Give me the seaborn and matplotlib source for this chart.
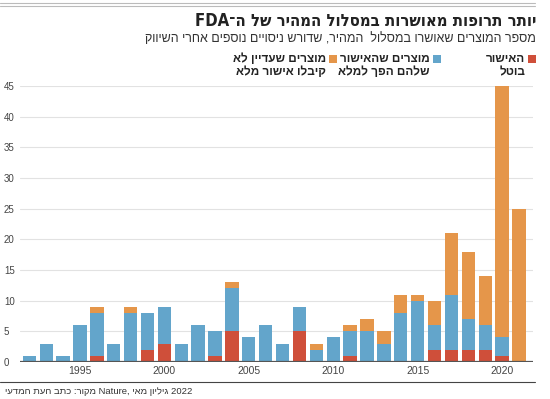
import re

import numpy as np
import pandas as pd
import seaborn as sns
import matplotlib.pyplot as plt
from matplotlib.patches import Rectangle
from matplotlib.lines import Line2D

# data
years = list(range(1992, 2022))
withdrawn = [0, 0, 0, 0, 1, 0, 0, 2, 3, 0, 0, 1, 5, 0, 0, 0, 5, 0, 0, 1, 0, 0, 0, 0, 2, 2, 2, 2, 1, 0]
converted = [1, 3, 1, 6, 7, 3, 8, 6, 6, 3, 6, 4, 7, 4, 6, 3, 4, 2, 4, 4, 5, 3, 8, 10, 4, 9, 5, 4, 3, 0]
pending = [0, 0, 0, 0, 1, 0, 1, 0, 0, 0, 0, 0, 1, 0, 0, 0, 0, 1, 0, 1, 2, 2, 3, 1, 4, 10, 11, 8, 41, 25]

title = "יותר תרופות מאושרות במסלול המהיר של ה־FDA"
subtitle = "מספר המוצרים שאושרו במסלול  המהיר, שדורש ניסויים נוספים אחרי השיווק"
legend_labels = ["האישור\nבוטל", "מוצרים שהאישור\nשלהם הפך למלא", "מוצרים שעדיין לא\nקיבלו אישור מלא"]

RED = "#cf4f3a"
BLUE = "#63a5cb"
ORANGE = "#e5964a"
colors = [RED, BLUE, ORANGE]

W, H = 550, 399


def rtl(s):
    # matplotlib has no bidi: flip each line, keep latin/digit runs readable
    out = []
    for line in s.split("\n"):
        r = line[::-1]
        out.append(re.sub(r"[A-Za-z0-9]+", lambda m: m.group(0)[::-1], r))
    return "\n".join(out)


def fx(px):
    return px / W


def fy(py):
    return 1 - py / H


sns.set_style("white")
plt.rcParams["font.family"] = ["Liberation Sans", "DejaVu Sans"]

df = pd.DataFrame({"year": years, "withdrawn": withdrawn,
                   "converted": converted, "pending": pending})
df["mid"] = df["withdrawn"] + df["converted"]
df["total"] = df["mid"] + df["pending"]

fig = plt.figure(figsize=(W / 100, H / 100), dpi=100)
ax = fig.add_axes([fx(20), fy(362), fx(533) - fx(20), fy(86) - fy(362)])

# stacked look: draw cumulative heights back to front
for col, c in [("total", ORANGE), ("mid", BLUE), ("withdrawn", RED)]:
    sns.barplot(data=df, x="year", y=col, color=c, saturation=1, width=0.79,
                edgecolor="none", ax=ax, zorder=2)

ax.set_xlim(-0.55, len(years) - 0.17)
ax.set_ylim(0, 45)
ax.set_yticks(range(0, 46, 5))
ax.set_yticklabels([str(v) for v in range(0, 46, 5)], ha="left")
ax.tick_params(axis="y", pad=11.5, length=0, labelsize=7, labelcolor="#444")
xt = [i for i, y in enumerate(years) if y % 5 == 0]
ax.set_xticks(xt)
ax.set_xticklabels([str(years[i]) for i in xt])
ax.tick_params(axis="x", pad=3, length=0, labelsize=7.5, labelcolor="#444")
ax.set_xlabel("")
ax.set_ylabel("")
ax.grid(axis="y", color="#e2e2e2", lw=0.8, zorder=0)
for s in ax.spines.values():
    s.set_visible(False)
ax.axhline(0, color="#555", lw=1.6, zorder=3)

# header rules
for y in (3, 5.5):
    fig.add_artist(Line2D([0, fx(535)], [fy(y), fy(y)], color="#bbb", lw=0.8))

fig.text(fx(536), fy(21), rtl(title), ha="right", va="center",
         fontsize=12, fontweight="bold", fontstretch="condensed",
         family=["DejaVu Sans"], color="#222")
fig.text(fx(536), fy(39), rtl(subtitle), ha="right", va="center",
         fontsize=9, color="#333")

# legend, right to left
leg_x = [536, 441, 337]
for x0, lab, c in zip(leg_x, legend_labels, colors):
    fig.add_artist(Rectangle((fx(x0 - 8), fy(63)), fx(8), fy(55) - fy(63),
                             transform=fig.transFigure, color=c, lw=0))
    fig.text(fx(x0 - 11), fy(53), rtl(lab), ha="right", va="top",
             multialignment="right", fontsize=8.5, fontweight="bold",
             color="#222", linespacing=1.15)

# footer
fig.add_artist(Line2D([0, fx(535)], [fy(382), fy(382)], color="#444", lw=0.8))
source = rtl("מקור: כתב העת המדעי") + " Nature, " + rtl("גיליון מאי") + " 2022"
fig.text(fx(5), fy(391), source, ha="left", va="center", fontsize=6.8, color="#333")

fig.savefig("out.png", dpi=100)
